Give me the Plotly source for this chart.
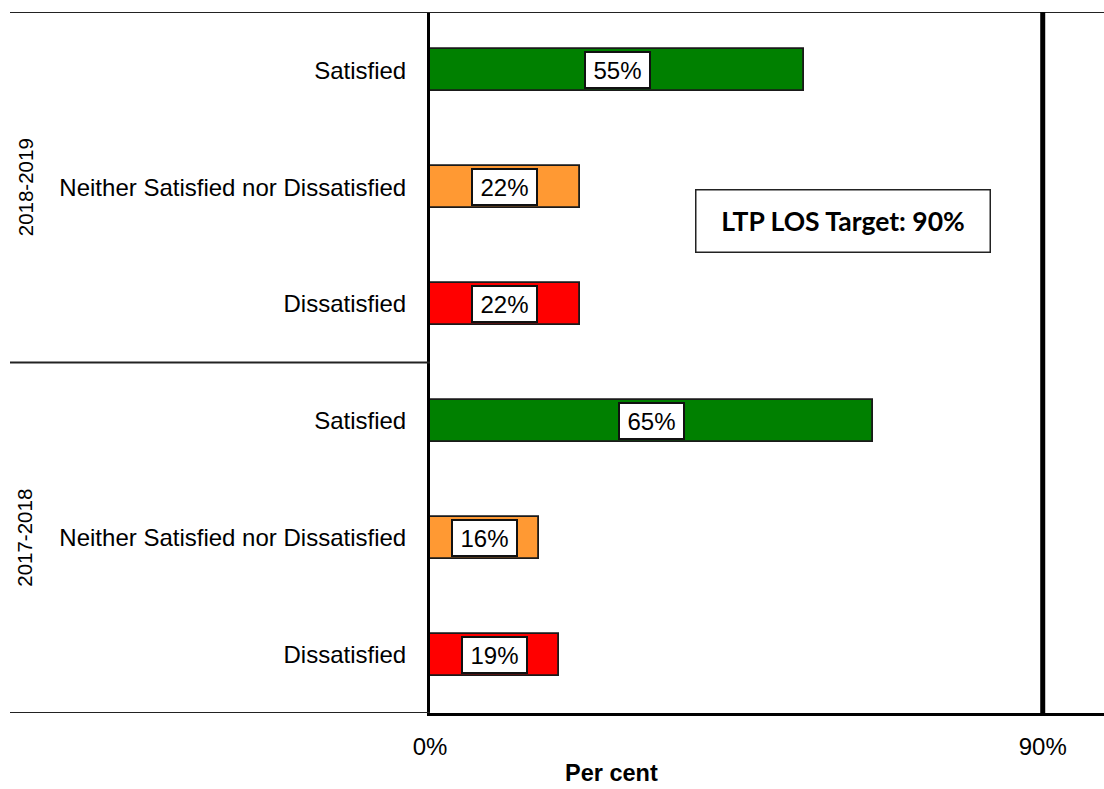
import plotly.graph_objects as go

# Survey results by period (top to bottom as drawn)
periods = ["2018-2019", "2017-2018"]
responses = ["Satisfied", "Neither Satisfied nor Dissatisfied", "Dissatisfied"]
values_2018_2019 = [55, 22, 22]
values_2017_2018 = [65, 16, 19]
response_colors = ["#008000", "#FF9933", "#FF0000"]
target_value = 90
target_label = "LTP LOS Target: 90%"
x_tick_values = [0, 90]
x_tick_labels = ["0%", "90%"]

values = values_2018_2019 + values_2017_2018
labels = responses * len(periods)
colors = response_colors * len(periods)
rows = list(range(len(values)))

FONT = "Liberation Sans, Arial, sans-serif"
W, H = 1104, 789
ML, MR, MT, MB = 430, 0, 12, 76
plot_w = W - ML - MR
plot_h = H - MT - MB


def px_x(px):
    return (px - ML) / plot_w


def px_y(py):
    return (H - MB - py) / plot_h


fig = go.Figure()
fig.add_trace(go.Bar(
    x=values,
    y=rows,
    orientation="h",
    width=0.36,
    marker=dict(color=colors, line=dict(color="#1a1a1a", width=1.8)),
    hoverinfo="skip",
    showlegend=False,
))

annotations = []
# value boxes centred in each bar
for r, v in zip(rows, values):
    annotations.append(dict(
        x=v / 2, y=r, xref="x", yref="y",
        text=f"{v}%", showarrow=False,
        font=dict(family=FONT, size=24, color="#000"),
        bgcolor="white", bordercolor="#111", borderwidth=2, borderpad=0,
        width=63, height=34, xanchor="center", yanchor="middle",
    ))

# period group labels
n = len(responses)
for gi, p in enumerate(periods):
    annotations.append(dict(
        x=px_x(25), y=gi * n + (n - 1) / 2, xref="paper", yref="y",
        text=p, textangle=-90, showarrow=False,
        font=dict(family=FONT, size=20.5, color="#000"),
        xanchor="center", yanchor="middle",
    ))

# target box
annotations.append(dict(
    x=px_x(843), y=px_y(221), xref="paper", yref="paper",
    text=f"<b>{target_label}</b>", showarrow=False,
    font=dict(family="Lato, Open Sans, sans-serif", size=26.5, color="#000"),
    bgcolor="white", bordercolor="#222", borderwidth=1.5, borderpad=0,
    width=293, height=61, xanchor="center", yanchor="middle",
))

# axis title
annotations.append(dict(
    x=px_x(611), y=px_y(788), xref="paper", yref="paper",
    text="<b>Per cent</b>", showarrow=False,
    font=dict(family=FONT, size=23.5, color="#000"),
    xanchor="center", yanchor="bottom",
))

left_edge = px_x(10)
shapes = [
    # top border across the whole chart
    dict(type="line", xref="paper", yref="y", x0=left_edge, x1=1,
         y0=-0.5, y1=-0.5, line=dict(color="#222", width=2)),
    # divider between periods
    dict(type="line", xref="paper", yref="y", x0=left_edge, x1=0,
         y0=len(responses) - 0.5, y1=len(responses) - 0.5,
         line=dict(color="#222", width=2)),
    # bottom border under the category labels
    dict(type="line", xref="paper", yref="y", x0=left_edge, x1=0,
         y0=len(values) - 0.5, y1=len(values) - 0.5,
         line=dict(color="#222", width=2)),
    # target line
    dict(type="line", xref="x", yref="paper", x0=target_value, x1=target_value,
         y0=0, y1=1, line=dict(color="#000", width=5)),
]

fig.update_layout(
    width=W, height=H,
    margin=dict(l=ML, r=MR, t=MT, b=MB, pad=0),
    paper_bgcolor="white", plot_bgcolor="white",
    font=dict(family=FONT, size=24, color="#000"),
    annotations=annotations,
    shapes=shapes,
    bargap=0,
)
fig.update_xaxes(
    range=[0, 99], tickvals=x_tick_values, ticktext=x_tick_labels,
    showgrid=False, zeroline=False,
    showline=True, linecolor="#000", linewidth=3,
    ticks="outside", ticklen=10, tickcolor="rgba(0,0,0,0)",
    tickfont=dict(family=FONT, size=24, color="#000"),
)
fig.update_yaxes(
    range=[len(values) - 0.5, -0.5], tickvals=rows, ticktext=labels,
    showgrid=False, zeroline=False,
    showline=True, linecolor="#000", linewidth=3,
    ticks="outside", ticklen=16, tickcolor="rgba(0,0,0,0)",
    tickfont=dict(family=FONT, size=24, color="#000"),
)

fig.write_html("out.html")
